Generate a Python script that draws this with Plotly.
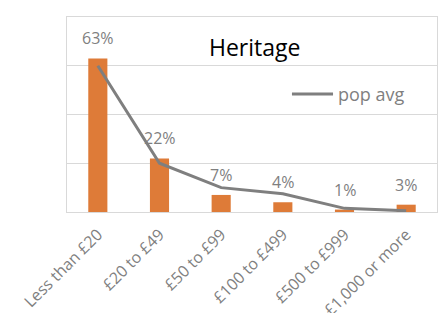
import plotly.graph_objects as go

categories = ["Less than £20", "£20 to £49", "£50 to £99", "£100 to £499", "£500 to £999", "£1,000 or more"]
heritage = [0.63, 0.22, 0.07, 0.04, 0.01, 0.03]
heritage_labels = ["63%", "22%", "7%", "4%", "1%", "3%"]
pop_avg = [0.60, 0.20, 0.10, 0.075, 0.015, 0.005]

FONT = "Open Sans"
GRAY = "#7f7f7f"
GRID = "#d9d9d9"

fig = go.Figure()
fig.add_trace(go.Bar(
    x=categories, y=heritage, name="Heritage",
    marker=dict(color="#DE7B38", line=dict(width=0)),
    width=0.31, showlegend=False,
))
fig.add_trace(go.Scatter(
    x=categories, y=pop_avg, name="pop avg", mode="lines",
    line=dict(color=GRAY, width=3), showlegend=False,
))

for c, v, t in zip(categories, heritage, heritage_labels):
    fig.add_annotation(x=c, y=v, text=t, showarrow=False, yanchor="bottom",
                       yshift=7, font=dict(family=FONT, size=16, color=GRAY))

fig.add_annotation(xref="paper", yref="paper", x=0.506, y=0.845, text="Heritage",
                   showarrow=False, xanchor="center", yanchor="middle",
                   font=dict(family=FONT, size=23, color="#000000"))

# legend for the line series
fig.add_shape(type="line", xref="paper", yref="paper", x0=0.608, x1=0.719, y0=0.605, y1=0.605,
              line=dict(color=GRAY, width=3))
fig.add_annotation(xref="paper", yref="paper", x=0.728, y=0.605, text="pop avg",
                   showarrow=False, xanchor="left", yanchor="middle",
                   font=dict(family=FONT, size=18, color=GRAY))

fig.update_layout(
    width=444, height=313,
    margin=dict(l=67, r=7, t=17, b=101, autoexpand=False),
    paper_bgcolor="white", plot_bgcolor="white",
    font=dict(family=FONT, color=GRAY),
    bargap=0.69,
    showlegend=False,
)
fig.update_xaxes(tickangle=-45, tickfont=dict(family=FONT, size=16, color=GRAY),
                 showline=True, linecolor=GRID, linewidth=1, mirror=True,
                 ticks="", showgrid=False, automargin=False, ticklabelstandoff=6)
fig.update_yaxes(range=[0, 0.8], dtick=0.2, showticklabels=False,
                 showgrid=True, gridcolor=GRID, gridwidth=1,
                 showline=True, linecolor=GRID, linewidth=1, mirror=True,
                 zeroline=False, ticks="", automargin=False)

fig.write_html("out.html", config={"displayModeBar": False},
               post_script="document.body.style.margin='0';")
